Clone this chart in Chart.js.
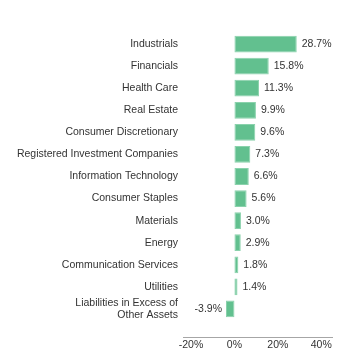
<!DOCTYPE html>
<html>
<head>
<meta charset="utf-8">
<script src="https://cdn.jsdelivr.net/npm/chart.js@4.4.1/dist/chart.umd.min.js"></script>
<style>
  html, body { margin: 0; padding: 0; background: #ffffff; }
  #wrap { width: 348px; height: 360px; position: relative; }
</style>
</head>
<body>
<div id="wrap"><canvas id="sectorBar"></canvas></div>
<script>
// Sector allocation data
const sectors = [
    'Industrials',
    'Financials',
    'Health Care',
    'Real Estate',
    'Consumer Discretionary',
    'Registered Investment Companies',
    'Information Technology',
    'Consumer Staples',
    'Materials',
    'Energy',
    'Communication Services',
    'Utilities',
    ['Liabilities in Excess of', 'Other Assets']
];
const weights = [28.7, 15.8, 11.3, 9.9, 9.6, 7.3, 6.6, 5.6, 3.0, 2.9, 1.8, 1.4, -3.9];
const tickValues = [-20, 0, 20, 40];

const textColor = '#333333';
const fontFamily = '"Liberation Sans", Arial, sans-serif';
const fontSize = 10.5;

// value labels next to each bar end
const valueLabels = {
    id: 'valueLabels',
    afterDatasetsDraw(chart) {
        const ctx = chart.ctx;
        const meta = chart.getDatasetMeta(0);
        ctx.save();
        ctx.font = fontSize + 'px ' + fontFamily;
        ctx.fillStyle = textColor;
        ctx.textBaseline = 'middle';
        meta.data.forEach((bar, i) => {
            const v = weights[i];
            const txt = v.toFixed(1) + '%';
            if (v >= 0) {
                ctx.textAlign = 'left';
                ctx.fillText(txt, bar.x + 5, bar.y);
            } else {
                ctx.textAlign = 'right';
                ctx.fillText(txt, bar.x - 4, bar.y);
            }
        });
        ctx.restore();
    }
};

// horizontal axis line drawn a little below the bars
const axisLine = {
    id: 'axisLine',
    afterDraw(chart) {
        const x = chart.scales.x;
        const ctx = chart.ctx;
        const y = x.top + 17.5;
        ctx.save();
        ctx.strokeStyle = '#a6a6a6';
        ctx.lineWidth = 1;
        ctx.beginPath();
        ctx.moveTo(x.left, y);
        ctx.lineTo(x.right, y);
        ctx.stroke();
        ctx.restore();
    }
};

document.addEventListener('DOMContentLoaded', function() {
    const ctx = document.getElementById('sectorBar').getContext('2d');
    new Chart(ctx, {
        type: 'bar',
        data: {
            labels: sectors,
            datasets: [{
                data: weights,
                backgroundColor: '#62c08f',
                borderColor: '#8ad2ac',
                borderWidth: 1,
                borderSkipped: false,
                categoryPercentage: 0.76,
                barPercentage: 1.0
            }]
        },
        options: {
            indexAxis: 'y',
            responsive: true,
            maintainAspectRatio: false,
            animation: false,
            layout: {
                padding: { top: 33, bottom: 7, left: 0, right: 15 }
            },
            plugins: {
                legend: { display: false },
                tooltip: { enabled: false }
            },
            scales: {
                x: {
                    min: -23.7,
                    max: 45.4,
                    afterBuildTicks(scale) {
                        scale.ticks = tickValues.map(v => ({ value: v }));
                    },
                    afterFit(scale) {
                        scale.height = 33;
                        scale.paddingLeft = 0;
                        scale.paddingRight = 0;
                    },
                    grid: { display: false, drawTicks: false },
                    border: { display: false },
                    ticks: {
                        padding: 19,
                        maxRotation: 0,
                        minRotation: 0,
                        autoSkip: false,
                        color: textColor,
                        font: { family: fontFamily, size: fontSize },
                        callback: v => v + '%'
                    }
                },
                y: {
                    afterFit(scale) { scale.width = 183; },
                    grid: { display: false, drawTicks: false },
                    border: { display: false },
                    ticks: {
                        padding: 5,
                        autoSkip: false,
                        color: textColor,
                        font: { family: fontFamily, size: fontSize }
                    }
                }
            }
        },
        plugins: [valueLabels, axisLine]
    });
});
</script>
</body>
</html>
